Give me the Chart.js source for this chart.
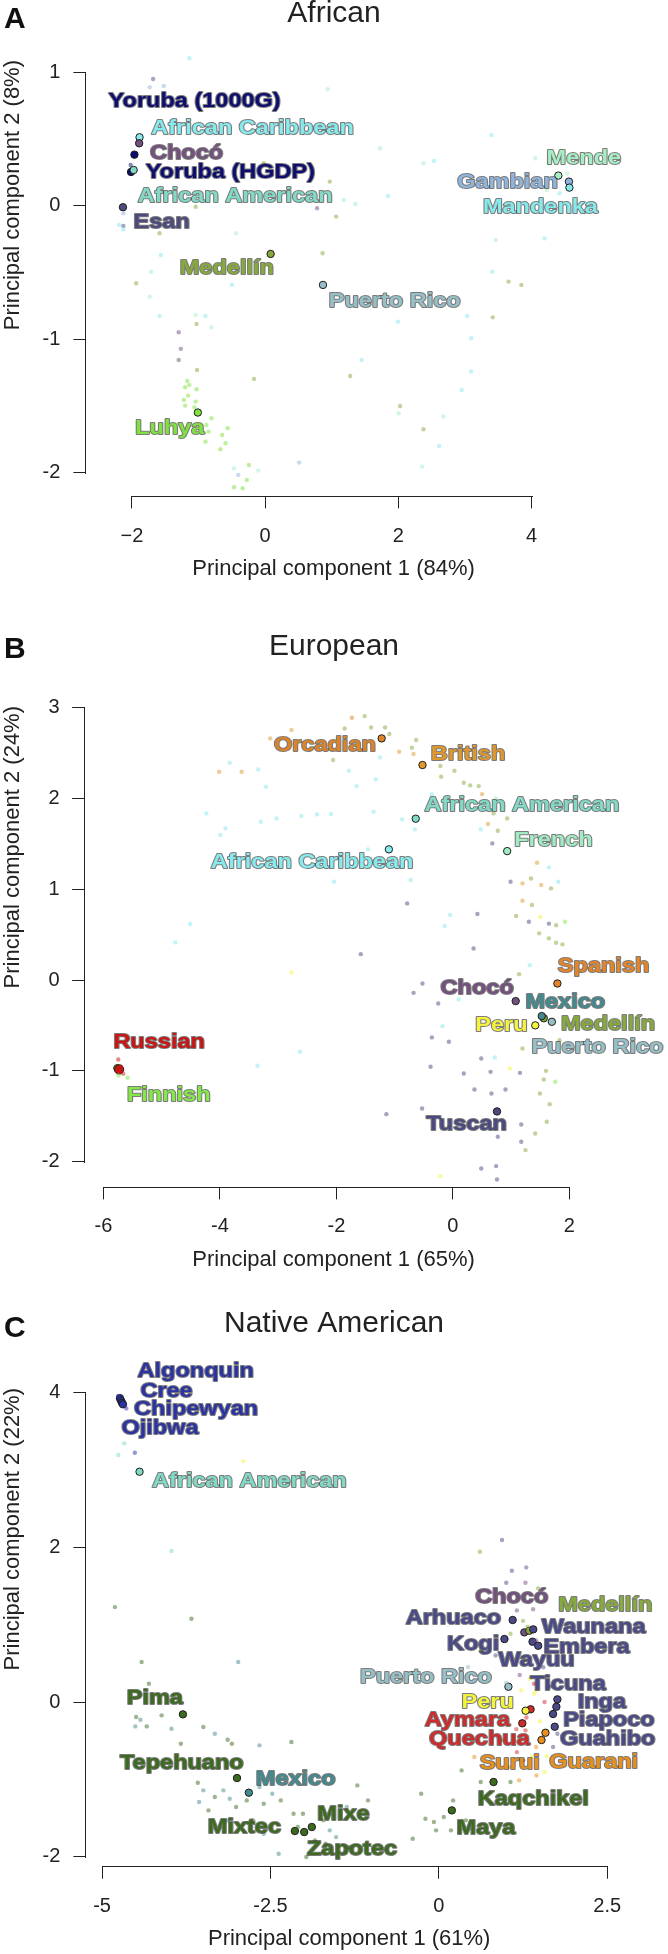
<!DOCTYPE html>
<html>
<head>
<meta charset="utf-8">
<title>PCA panels</title>
<script src="https://cdn.jsdelivr.net/npm/chart.js@4.4.1/dist/chart.umd.min.js"></script>
<style>
  html, body { margin: 0; padding: 0; background: #fff; }
  body { position: relative; width: 668px; height: 1954px; overflow: hidden; }
  canvas { position: absolute; left: 0; }
</style>
</head>
<body>
<canvas id="chartA" width="668" height="610" style="top:0px"></canvas>
<canvas id="chartB" width="668" height="670" style="top:610px"></canvas>
<canvas id="chartC" width="668" height="674" style="top:1280px"></canvas>
<script>
// ---------- text ----------
const panelTitles = ['African', 'European', 'Native American'];
const xAxisTitles = ['Principal component 1 (84%)', 'Principal component 1 (65%)', 'Principal component 1 (61%)'];
const yAxisTitles = ['Principal component 2 (8%)', 'Principal component 2 (24%)', 'Principal component 2 (22%)'];

// ---------- panel A : African ----------
const africanXTicks = [-2, 0, 2, 4];
const africanXTickLabels = ['\u22122', '0', '2', '4'];
const africanYTicks = [1, 0, -1, -2];
const africanYTickLabels = ['1', '0', '-1', '-2'];

const africanPops = ['Yoruba (1000G)', 'African Caribbean', 'Chocó', 'Yoruba (HGDP)', 'African American', 'Esan',
  'Mende', 'Gambian', 'Mandenka', 'Medellín', 'Puerto Rico', 'Luhya'];
const africanPopX = [-1.962, -1.885, -1.891, -2.013, -1.974, -2.134, 4.403, 4.562, 4.569, 0.083, 0.869, -1.010];
const africanPopY = [0.383, 0.513, 0.468, 0.253, 0.268, -0.011, 0.226, 0.181, 0.136, -0.361, -0.593, -1.549];
const africanLabelX = [-1.058, -0.189, -1.179, -0.521, -0.450, -1.553, 4.786, 3.639, 4.134, -0.575, 1.946, -1.431];
const africanLabelY = [0.780, 0.580, 0.393, 0.248, 0.068, -0.126, 0.356, 0.173, -0.012, -0.469, -0.713, -1.667];

const africanBgX = [-1.233, -1.310, -1.137, -1.214, -1.297, -1.169, -1.137, 0.013, -1.681, -1.732, -1.521, 0.939, 1.565,
  3.399, 1.725, 2.377, 2.537, 4.057, 4.262, 4.537, 4.422, 4.230, 4.198, 3.463, 3.412, 3.655, 3.847, 3.035, 3.418,
  -0.434, 0.780, 0.971, 1.182, 1.355, 1.067, 1.847, 0.863, -0.498, -0.019, -1.042, -1.585, -1.566, -1.712, -1.936,
  -1.732, -1.042, -0.895, 1.994, -1.585, -1.029, -0.805, -1.297, -1.265, -1.297, -1.022,
  -1.169, -1.201, -1.137, -1.029, -1.156, -1.220, -1.042, -1.201, -1.061, -0.805, -0.882, -0.562, -0.850, -0.645,
  -0.895, -0.594, -0.671, -0.466, -0.243, -0.403, -0.275, -0.102, -0.466, -0.338, -0.166, 0.511, 1.278, 1.450,
  3.093, 3.093, 2.952, 2.026, 2.006, 2.677, 2.377, 2.613, 2.358, 1.789, -2.128, -2.192, -2.128, -2.128, -2.019];
const africanBgY = [1.392, 1.330, 1.355, 1.272, 1.192, 1.142, 1.105, 1.355, 0.950, 0.888, 0.898, 0.873, 1.205,
  0.530, 0.431, 0.318, 0.336, 0.356, 0.318, 0.243, 0.093, 0.118, -0.244, -0.256, -0.494, -0.568, -0.593, -0.826, -0.836,
  -0.206, -0.019, 0.181, 0.043, 0.013, -0.081, 0.073, -0.356, -0.593, 0.318, -0.007, -0.206, -0.369, -0.494, -0.581,
  -0.681, -0.818, -0.826, -0.868, -0.825, -0.885, -0.910, -0.948, -1.072, -1.155, -1.230,
  -1.312, -1.360, -1.342, -1.375, -1.422, -1.455, -1.467, -1.497, -1.510, -1.592, -1.642, -1.667, -1.692, -1.717,
  -1.767, -1.779, -1.824, -1.967, -1.942, -2.016, -2.054, -1.984, -2.109, -2.116, -1.297, -1.924, -1.275, -1.155,
  -0.993, -1.242, -1.380, -1.500, -1.554, -1.579, -1.674, -1.799, -1.954, -2.316, -0.056, -0.144, -0.151, -0.176, 0.306];
const africanBgPop = ['Gambian', 'African Caribbean', 'African Caribbean', 'Gambian', 'Mandenka', 'Mandenka', 'African Caribbean',
  'Mende', 'Esan', 'Gambian', 'Gambian', 'Mende', 'Mandenka',
  'Mandenka', 'Mende', 'Mende', 'Mandenka', 'Mende', 'Mende', 'Mende', 'Mandenka', 'Mende', 'Mandenka', 'Mende',
  'Mandenka', 'Medellín', 'Medellín', 'Mandenka', 'Medellín',
  'Mende', 'Chocó', 'Medellín', 'Mende', 'Mende', 'Medellín', 'Mandenka', 'Medellín', 'Mandenka', 'Medellín', 'Medellín',
  'Medellín', 'Mandenka', 'Mende', 'Medellín',
  'Mende', 'Mende', 'Mandenka', 'Mandenka', 'Mandenka', 'Medellín', 'Mende', 'Chocó', 'Chocó', 'Chocó', 'Medellín',
  'Luhya', 'Luhya', 'Luhya', 'Luhya', 'Luhya', 'Luhya', 'Luhya', 'Luhya', 'Luhya', 'Luhya', 'Luhya', 'Luhya', 'Luhya', 'Luhya',
  'Luhya', 'Luhya', 'Luhya', 'Mende', 'Luhya', 'Gambian', 'Luhya', 'Mende', 'Luhya', 'Luhya', 'Medellín', 'Gambian', 'Medellín', 'Mandenka',
  'Mandenka', 'Mandenka', 'Mandenka', 'Medellín', 'Mende', 'Mende', 'Medellín', 'African Caribbean', 'Mende', 'African Caribbean',
  'Gambian', 'African Caribbean', 'Esan', 'African Caribbean', 'Yoruba (HGDP)'];

// ---------- panel B : European ----------
const europeanXTicks = [-6, -4, -2, 0, 2];
const europeanXTickLabels = ['-6', '-4', '-2', '0', '2'];
const europeanYTicks = [3, 2, 1, 0, -1, -2];
const europeanYTickLabels = ['3', '2', '1', '0', '-1', '-2'];

const europeanPops = ['Orcadian', 'British', 'African American', 'French', 'African Caribbean', 'Spanish', 'Chocó',
  'Medellín', 'Mexico', 'Puerto Rico', 'Peru', 'Finnish', 'Russian', 'Tuscan'];
const europeanPopX = [-1.223, -0.522, -0.638, 0.932, -1.099, 1.794, 1.078, 1.56, 1.525, 1.699, 1.414, -5.76, -5.730, 0.757];
const europeanPopY = [2.662, 2.369, 1.778, 1.421, 1.440, -0.037, -0.231, -0.42, -0.396, -0.459, -0.498, -0.97, -0.984, -1.446];
const europeanLabelX = [-2.198, 0.260, 1.184, 1.725, -2.417, 2.587, 0.417, 2.663, 1.929, 2.481, 0.833, -4.879, -5.043, 0.234];
const europeanLabelY = [2.589, 2.486, 1.928, 1.543, 1.304, 0.154, -0.092, -0.488, -0.239, -0.734, -0.496, -1.267, -0.679, -1.590];

const europeanBgX = [-1.734, -1.515, -2.771, -1.858, -1.405, -1.164, -1.091, -3.137, -2.055, -0.923, -0.704, -0.631, -0.675,
  -0.215, 0.026, -0.201, 0.187, 0.297, 0.443, 0.501, 0.735, 0.932, 0.698, 0.603, 0.771, 0.479, 0.676,
  -4.013, -3.626, -3.831, -3.341, -3.210, -4.232, -3.904, -3.991, -3.297, -3.027, -2.603, -2.333, -2.092, -1.362,
  -1.785, -1.654, -1.325, -1.252, -0.872, -0.653, -0.361, -1.457, -2.041, -0.726, -0.785,
  1.443, 1.341, 1.516, 1.684, 1.808, 1.648, 0.990, 1.195, 1.356, 1.085, 1.304, 0.421, -0.047, -0.142, 1.501, 1.648,
  1.772, 1.925, 1.480, 1.648, 1.772, 1.881, 0.355, -4.510, -4.766, 1.195,
  -1.581, -2.771, -0.522, -0.675, -0.252, 0.099, 1.136, 1.319, -0.361, -0.069, -0.178, 1.195, 1.830, 0.486, 0.720,
  0.647, -0.383, 0.187, 0.976, 1.151, 1.597, 1.560, 1.757, 0.370, 0.662, 0.903, 1.494, 1.662, -0.529, -1.142, 1.173,
  1.611, 1.414, 0.771, 1.173, 1.246, 0.486, 0.742, 0.757, -0.215, -2.625, -3.356,
  -5.744, -5.660, -5.584, -5.740, -5.700];
const europeanBgY = [2.890, 2.908, 2.754, 2.772, 2.783, 2.783, 2.710, 2.662, 2.424, 2.515, 2.559, 2.644, 2.490,
  2.358, 2.306, 2.240, 2.174, 2.145, 2.137, 2.049, 2.001, 1.781, 1.836, 1.719, 1.645, 1.660, 1.506,
  2.295, 2.295, 2.394, 2.321, 2.130, 1.836, 1.671, 1.598, 1.744, 1.781, 1.807, 1.825, 1.829, 1.855,
  2.306, 2.137, 2.211, 2.453, 1.770, 1.660, 2.049, 1.440, 1.084, 1.102, 0.845,
  1.293, 1.120, 1.047, 1.010, 1.084, 1.242, 1.084, 1.065, 0.827, 0.706, 0.643, 0.728, 0.717, 0.596, 0.695, 0.622,
  0.604, 0.643, 0.515, 0.460, 0.412, 0.394, 0.349, 0.618, 0.416, 0.874,
  0.286, 0.084, -0.037, -0.140, -0.257, -0.213, 0.066, 0.165, -0.631, -0.679, -0.507, -0.753, -0.661, -0.863, -0.852,
  -1.010, -0.954, -1.028, -0.973, -1.021, -0.999, -1.094, -1.120, -1.204, -1.248, -1.204, -1.248, -1.366, -1.413, -1.476, -1.590,
  -1.560, -1.689, -1.725, -1.780, -1.872, -2.074, -2.048, -2.195, -2.159, -0.789, -0.943,
  -0.874, -1.030, -1.075, -1.050, -0.950];
const europeanBgPop = ['Orcadian', 'Medellín', 'British', 'Medellín', 'Medellín', 'Medellín', 'Medellín', 'British', 'Medellín',
  'British', 'Medellín', 'Medellín', 'British',
  'Medellín', 'Medellín', 'Medellín', 'Medellín', 'Medellín', 'Medellín', 'British', 'French', 'Medellín', 'Medellín', 'British',
  'Medellín', 'African Caribbean', 'Tuscan',
  'British', 'British', 'African Caribbean', 'African Caribbean', 'African Caribbean', 'African Caribbean', 'African Caribbean',
  'African Caribbean', 'African Caribbean', 'African Caribbean', 'African Caribbean', 'African Caribbean', 'African Caribbean', 'African Caribbean',
  'African Caribbean', 'African Caribbean', 'African Caribbean', 'African Caribbean', 'African Caribbean', 'African Caribbean',
  'African Caribbean', 'African Caribbean', 'African Caribbean', 'African Caribbean', 'Tuscan',
  'British', 'Medellín', 'British', 'Medellín', 'African Caribbean', 'African Caribbean', 'Tuscan', 'British', 'Medellín', 'Medellín',
  'Tuscan', 'Tuscan', 'African Caribbean', 'African Caribbean', 'Peru', 'Tuscan',
  'Medellín', 'Finnish', 'Medellín', 'Medellín', 'Medellín', 'Medellín', 'Tuscan', 'African Caribbean', 'African Caribbean', 'British',
  'Tuscan', 'Peru', 'Tuscan', 'Tuscan', 'Tuscan', 'African Caribbean', 'Medellín', 'African Caribbean', 'Tuscan', 'Tuscan',
  'African Caribbean', 'Medellín', 'Medellín', 'Tuscan', 'African Caribbean',
  'Tuscan', 'Tuscan', 'Tuscan', 'Peru', 'Tuscan', 'Medellín', 'Medellín', 'Finnish', 'Tuscan', 'Tuscan', 'Tuscan', 'Medellín',
  'Medellín', 'Tuscan', 'Tuscan', 'Tuscan',
  'Medellín', 'Medellín', 'Tuscan', 'Tuscan', 'Medellín', 'Tuscan', 'Tuscan', 'Tuscan', 'Peru', 'African Caribbean', 'African Caribbean',
  'Russian', 'Russian', 'Finnish', 'Finnish', 'Russian'];

// ---------- panel C : Native American ----------
const nativeXTicks = [-5, -2.5, 0, 2.5];
const nativeXTickLabels = ['-5', '-2.5', '0', '2.5'];
const nativeYTicks = [4, 2, 0, -2];
const nativeYTickLabels = ['4', '2', '0', '-2'];

const nativePops = ['Algonquin', 'Cree', 'Chipewyan', 'Ojibwa', 'African American', 'Pima', 'Tepehuano', 'Mexico',
  'Mixtec', 'Zapotec', 'Mixe', 'Maya', 'Kaqchikel', 'Arhuaco', 'Chocó', 'Medellín', 'Waunana', 'Kogi', 'Wayuu', 'Embera',
  'Puerto Rico', 'Ticuna', 'Inga', 'Piapoco', 'Guahibo', 'Aymara', 'Quechua', 'Peru', 'Surui', 'Guarani'];
const nativePopX = [-4.735, -4.720, -4.705, -4.690, -4.444, -3.800, -2.997, -2.821, -2.138, -1.999, -1.886, 0.193, 0.812,
  1.096, 1.269, 1.343, 1.402, 0.974, 1.391, 1.475, 1.033, 1.760, 1.745, 1.696, 1.721, 1.362, 1.239, 1.288, 1.524, 1.583];
const nativePopY = [3.930, 3.900, 3.870, 3.850, 2.978, -0.159, -0.983, -1.172, -1.668, -1.681, -1.616, -1.401, -1.034,
  1.061, 0.901, 0.922, 0.940, 0.815, 0.780, 0.728, 0.198, 0.035, -0.061, -0.155, -0.319, -0.094, -0.275, -0.112, -0.491, -0.397];
const nativeLabelX = [-3.610, -4.043, -3.604, -4.141, -2.814, -4.217, -3.816, -2.126, -2.887, -1.289, -1.416, 0.700, 1.403,
  0.216, 1.082, 2.471, 2.299, 0.509, 1.451, 2.193, -0.191, 1.918, 2.421, 2.525, 2.508, 0.425, 0.602, 0.725, 1.052, 2.299];
const nativeLabelY = [4.280, 4.022, 3.784, 3.547, 2.858, 0.056, -0.789, -1.000, -1.616, -1.909, -1.444, -1.629, -1.250,
  1.090, 1.354, 1.255, 0.966, 0.750, 0.543, 0.715, 0.323, 0.233, -0.004, -0.233, -0.482, -0.233, -0.482, 0.004, -0.793, -0.772];

const nativeBgX = [-4.760, -4.640, -4.672, -4.760, -4.514, -2.903, -3.970, 0.938, 0.610, 1.084, 1.298, 1.286, 1.001, 1.475,
  -4.810, -3.673, -4.413, -2.979, -4.305, -4.495, -4.431, -4.507, -4.337, -4.116, -3.970, -3.831, -3.497, -3.326, -3.136,
  -3.073, -2.663, -2.189, -3.579, -3.497, -3.560, -3.421, -3.326, -3.200, -3.105, -3.010, -2.852, -2.663, -2.600, -2.473,
  -2.347, -2.157, -2.018, -2.094, -1.715, -1.620, -1.841, -1.683, -1.526, -1.336, -1.052, -1.368, -1.210, -2.378, -1.968,
  -2.600, -2.757, -3.136, -0.199, -0.073, 0.073, 0.180, -0.041, 0.401, 0.212, -0.388, -0.262, 0.338, 0.527, 0.622, 1.064,
  1.191, 1.570, 0.812, 0.433, 0.622, 0.843, 1.286, 1.507, 1.633, 1.412, 1.412, 1.223, 1.570, 1.286, 1.128, 0.938, 1.444,
  1.696, 1.159, 1.381, 1.254, 1.033, 1.760, 1.317, 1.444, 1.064, 1.570, 1.159,
  1.350, 1.450, 1.300, 1.500, 1.200, 1.550, 1.400, 1.250, 1.000, 1.600, 1.450, 1.150, 1.650];
const nativeBgY = [3.957, 3.797, 3.345, 3.194, 3.224, 3.116, 1.953, 2.095, 1.944, 1.698, 1.741, 1.543, 1.543, 1.470,
  1.228, 1.078, 0.517, 0.517, 0.237, -0.194, -0.228, -0.315, -0.315, -0.172, -0.345, -0.539, -0.323, -0.409, -0.487,
  -0.539, -0.560, -0.517, -1.043, -1.142, -1.293, -1.401, -1.228, -1.142, -1.250, -1.358, -1.272, -1.099, -1.315, -1.185,
  -1.272, -1.444, -1.444, -1.616, -1.530, -1.659, -1.789, -1.832, -1.746, -1.875, -1.272, -1.358, -1.078, -1.961, -2.004,
  -1.703, -1.530, -1.530, -1.509, -1.552, -1.487, -1.659, -1.659, -1.530, -1.272, -1.767, -1.185, -0.884, -0.711, -1.034, -1.034,
  -1.013, -0.905, -0.797, 0.453, 0.668, 0.603, 0.539, 0.323, 0.582, 0.237, 0.108, 0.151, 0.000, -0.366, -0.496, -0.496, -0.582,
  -0.582, -0.647, -0.711, -0.754, -0.841, -0.409, 0.970, 0.797, 0.884, 1.056, 1.185,
  0.300, 0.150, -0.200, -0.250, 0.350, 0.450, 1.200, 1.050, 0.250, -0.700, -0.950, -0.350, 0.200];
const nativeBgPop = ['Cree', 'Cree', 'African American', 'African American', 'Cree', 'Peru', 'African American', 'Arhuaco',
  'Medellín', 'Arhuaco', 'Chocó', 'Chocó', 'Arhuaco', 'Medellín',
  'Pima', 'Pima', 'Pima', 'Mexico', 'Pima', 'Pima', 'Mexico', 'Mexico', 'Pima', 'Pima', 'Mexico', 'Pima', 'Pima', 'Mexico', 'Pima',
  'Pima', 'Mexico', 'Pima', 'Pima', 'Mexico', 'Mexico', 'Pima', 'Pima', 'Mexico', 'Mexico', 'Pima', 'Pima', 'Mexico', 'Pima', 'Mexico',
  'Pima', 'Pima', 'Pima', 'Pima', 'Pima', 'Mexico', 'Pima', 'Pima', 'Mexico', 'Pima', 'Pima', 'Mexico', 'Pima', 'Mexico', 'Pima',
  'Mexico', 'Pima', 'Mexico', 'Pima', 'Pima', 'Pima', 'Pima', 'Pima', 'Pima', 'Pima', 'Pima', 'Pima', 'Pima', 'Surui', 'Pima', 'Pima',
  'Surui', 'Peru', 'Surui', 'Puerto Rico', 'Medellín', 'Arhuaco', 'Peru', 'Peru', 'Arhuaco', 'Aymara', 'Peru', 'Peru', 'Aymara',
  'Aymara', 'Peru', 'Medellín', 'Surui', 'Arhuaco', 'Aymara', 'Peru', 'Aymara', 'Surui', 'Arhuaco', 'Medellín', 'Chocó', 'Medellín',
  'Arhuaco', 'Chocó',
  'Peru', 'Peru', 'Aymara', 'Peru', 'Chocó', 'Arhuaco', 'Chocó', 'Medellín', 'Puerto Rico', 'Peru', 'Surui', 'Aymara', 'Arhuaco'];

// ---------- styles ----------
const FONT = "'Liberation Sans', Arial, Helvetica, sans-serif";
const northBlue = '#2b33a3', southSlate = '#4a4a88', mesoGreen = '#3c6a1f';
const popColor = {
  'Yoruba (1000G)': '#0e0e70', 'Yoruba (HGDP)': '#0e0e70', 'African Caribbean': '#86eaee', 'Chocó': '#74507f',
  'African American': '#80dac6', 'Esan': '#4b4b7e', 'Mende': '#a6efc4', 'Gambian': '#8fb5dd', 'Mandenka': '#86e9ec',
  'Medellín': '#86aa3c', 'Puerto Rico': '#96c0c8', 'Luhya': '#80e23e',
  'Orcadian': '#de8428', 'British': '#e0982c', 'French': '#a2ecc4', 'Spanish': '#e4852a', 'Mexico': '#438a8e',
  'Peru': '#f4f43c', 'Tuscan': '#4a4a80', 'Russian': '#cc1414', 'Finnish': '#86e846',
  'Algonquin': northBlue, 'Cree': northBlue, 'Chipewyan': northBlue, 'Ojibwa': northBlue,
  'Arhuaco': southSlate, 'Kogi': southSlate, 'Wayuu': southSlate, 'Waunana': southSlate, 'Embera': southSlate,
  'Ticuna': southSlate, 'Inga': southSlate, 'Piapoco': southSlate, 'Guahibo': southSlate,
  'Pima': mesoGreen, 'Tepehuano': mesoGreen, 'Mixtec': mesoGreen, 'Zapotec': mesoGreen, 'Mixe': mesoGreen,
  'Maya': mesoGreen, 'Kaqchikel': mesoGreen,
  'Aymara': '#d02a2a', 'Quechua': '#d02a2a', 'Surui': '#e98f1e', 'Guarani': '#e98f1e'
};

Chart.defaults.font.family = FONT;
Chart.defaults.color = '#222';

function rgba(hex, a) {
  const n = parseInt(hex.slice(1), 16);
  return `rgba(${n >> 16},${(n >> 8) & 255},${n & 255},${a})`;
}

// R-style axis lines that only run between the outer ticks
const axisLines = {
  id: 'axisLines',
  afterDraw(chart) {
    const {ctx, chartArea} = chart;
    const xs = chart.scales.x, ys = chart.scales.y;
    const xv = xs.ticks.map(t => t.value), yv = ys.ticks.map(t => t.value);
    ctx.save();
    ctx.strokeStyle = '#222';
    ctx.lineWidth = 1;
    ctx.beginPath();
    const by = Math.round(chartArea.bottom) + 0.5;
    ctx.moveTo(Math.round(xs.getPixelForValue(Math.min(...xv))), by);
    ctx.lineTo(Math.round(xs.getPixelForValue(Math.max(...xv))) + 1, by);
    const lx = Math.round(chartArea.left) - 0.5;
    ctx.moveTo(lx, Math.round(ys.getPixelForValue(Math.max(...yv))));
    ctx.lineTo(lx, Math.round(ys.getPixelForValue(Math.min(...yv))) + 1);
    ctx.stroke();
    ctx.restore();
  }
};

// population names written next to their points, plus the panel letter
function labelPlugin(names, lx, ly, letter, letterY) {
  return {
    id: 'popLabels',
    afterDatasetsDraw(chart) {
      const {ctx} = chart;
      const xs = chart.scales.x, ys = chart.scales.y;
      ctx.save();
      ctx.font = `bold 21px ${FONT}`;
      ctx.textAlign = 'center';
      ctx.textBaseline = 'middle';
      ctx.lineJoin = 'round';
      names.forEach((name, i) => {
        ctx.save();
        ctx.translate(xs.getPixelForValue(lx[i]), ys.getPixelForValue(ly[i]));
        ctx.scale(1.12, 1);
        ctx.lineWidth = 2;
        ctx.strokeStyle = 'rgba(35,35,35,0.6)';
        ctx.strokeText(name, 0, 0);
        ctx.fillStyle = popColor[name];
        ctx.fillText(name, 0, 0);
        ctx.restore();
      });
      ctx.font = `bold 30px ${FONT}`;
      ctx.textAlign = 'left';
      ctx.fillStyle = '#111';
      ctx.fillText(letter, 4, letterY);
      ctx.restore();
    }
  };
}

function makePanel(id, d, L) {
  const bg = d.bgX.map((x, i) => ({x, y: d.bgY[i]}));
  const pts = d.popX.map((x, i) => ({x, y: d.popY[i]}));
  return new Chart(document.getElementById(id), {
    type: 'scatter',
    data: {
      datasets: [{
        data: bg,
        pointRadius: 2.2,
        pointBackgroundColor: d.bgPop.map(n => rgba(popColor[n], 0.5)),
        pointBorderWidth: 0,
        pointBorderColor: 'rgba(0,0,0,0)',
        clip: false
      }, {
        data: pts,
        pointRadius: d.pops.map(n => n === 'Russian' ? 4.6 : 3.7),
        pointBackgroundColor: d.pops.map(n => popColor[n]),
        pointBorderColor: '#1c1c1c',
        pointBorderWidth: 1,
        clip: false
      }]
    },
    options: {
      responsive: false,
      animation: false,
      devicePixelRatio: 1,
      layout: {padding: 0},
      plugins: {
        legend: {display: false},
        tooltip: {enabled: false},
        title: {
          display: true, text: d.title, color: '#222',
          font: {size: 30, weight: 'normal', lineHeight: 1},
          padding: {top: L.titleTop, bottom: L.titleBottom}
        }
      },
      scales: {
        x: {
          type: 'linear', position: 'bottom', min: L.xMin, max: L.xMax,
          afterBuildTicks: s => { s.ticks = d.xTicks.map(v => ({value: v})); },
          afterFit: s => { s.height = L.xAxisH; },
          grid: {display: true, drawOnChartArea: false, tickLength: 12.7, color: '#222', lineWidth: 1},
          border: {display: false},
          ticks: {
            autoSkip: false, maxRotation: 0, padding: L.xTickPad, color: '#222',
            font: {size: 20, lineHeight: 1.2},
            callback: (v, i) => d.xTickLabels[i]
          },
          title: {
            display: true, text: d.xTitle, color: '#222',
            font: {size: 22, lineHeight: 1.2}, padding: {top: 0, bottom: L.xTitleBottom}
          }
        },
        y: {
          type: 'linear', position: 'left', min: L.yMin, max: L.yMax,
          afterBuildTicks: s => { s.ticks = d.yTicks.map(v => ({value: v})); },
          afterFit: s => { s.width = L.yAxisW; },
          grid: {display: true, drawOnChartArea: false, tickLength: 13, color: '#222', lineWidth: 1},
          border: {display: false},
          ticks: {
            autoSkip: false, padding: L.yTickPad, color: '#222',
            font: {size: 20, lineHeight: 1.2},
            callback: (v, i) => d.yTickLabels[i]
          },
          title: {
            display: true, text: d.yTitle, color: '#222', align: 'end',
            font: {size: 22, lineHeight: 1.2}, padding: {top: 0, bottom: 0}
          }
        },
        yPad: {
          type: 'linear', position: 'right', display: true,
          afterFit: s => { s.width = L.rightPad; },
          grid: {display: false}, border: {display: false}, ticks: {display: false}
        }
      }
    },
    plugins: [axisLines, labelPlugin(d.pops, d.labelX, d.labelY, L.letter, L.letterY)]
  });
}

makePanel('chartA', {
  title: panelTitles[0], xTitle: xAxisTitles[0], yTitle: yAxisTitles[0],
  xTicks: africanXTicks, xTickLabels: africanXTickLabels, yTicks: africanYTicks, yTickLabels: africanYTickLabels,
  pops: africanPops, popX: africanPopX, popY: africanPopY, labelX: africanLabelX, labelY: africanLabelY,
  bgX: africanBgX, bgY: africanBgY, bgPop: africanBgPop
}, {
  letter: 'A', letterY: 19.5, xMin: -2.683, xMax: 4.740, yMin: -2.172, yMax: 1.092,
  yAxisW: 86.4, xAxisH: 114.3, rightPad: 87.2, titleTop: -1.7, titleBottom: 31.7,
  xTickPad: 16.3, yTickPad: 13, xTitleBottom: 27.8
});

makePanel('chartB', {
  title: panelTitles[1], xTitle: xAxisTitles[1], yTitle: yAxisTitles[1],
  xTicks: europeanXTicks, xTickLabels: europeanXTickLabels, yTicks: europeanYTicks, yTickLabels: europeanYTickLabels,
  pops: europeanPops, popX: europeanPopX, popY: europeanPopY, labelX: europeanLabelX, labelY: europeanLabelY,
  bgX: europeanBgX, bgY: europeanBgY, bgPop: europeanBgPop
}, {
  letter: 'B', letterY: 40, xMin: -6.314, xMax: 2.218, yMin: -2.275, yMax: 3.019,
  yAxisW: 85.1, xAxisH: 93.3, rightPad: 85.9, titleTop: 21.7, titleBottom: 44.3,
  xTickPad: 15.3, yTickPad: 12.5, xTitleBottom: 7.1
});

makePanel('chartC', {
  title: panelTitles[2], xTitle: xAxisTitles[2], yTitle: yAxisTitles[2],
  xTicks: nativeXTicks, xTickLabels: nativeXTickLabels, yTicks: nativeYTicks, yTickLabels: nativeYTickLabels,
  pops: nativePops, popX: nativePopX, popY: nativePopY, labelX: nativeLabelX, labelY: nativeLabelY,
  bgX: nativeBgX, bgY: nativeBgY, bgPop: nativeBgPop
}, {
  letter: 'C', letterY: 48.3, xMin: -5.233, xMax: 2.571, yMin: -2.120, yMax: 4.061,
  yAxisW: 86.4, xAxisH: 88, rightPad: 56, titleTop: 28.3, titleBottom: 49.7,
  xTickPad: 16, yTickPad: 13, xTitleBottom: 1.5
});
</script>
</body>
</html>
